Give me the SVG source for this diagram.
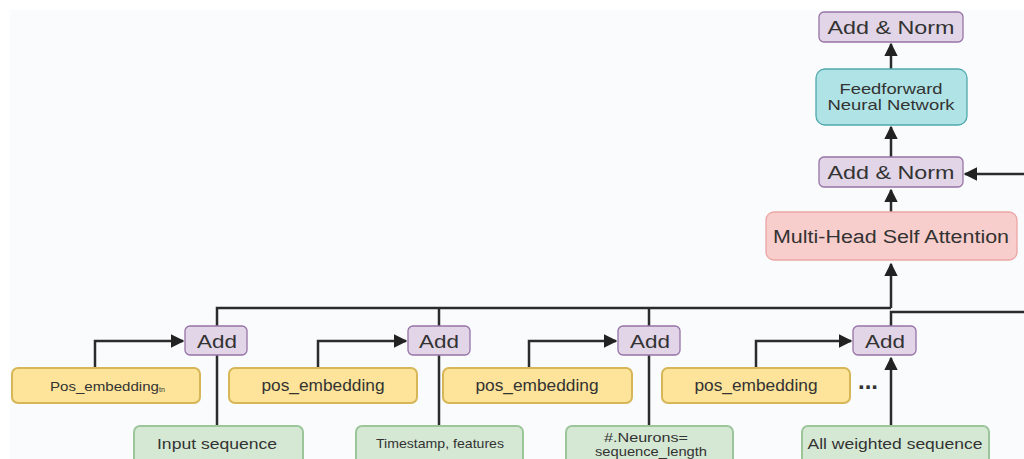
<svg xmlns="http://www.w3.org/2000/svg" width="1024" height="459" viewBox="0 0 1024 459">
<defs>
<marker id="ah" viewBox="0 0 10 10" refX="9" refY="5" markerWidth="5.5" markerHeight="5.5" orient="auto" markerUnits="strokeWidth">
<path d="M0,0 L10,5 L0,10 z" fill="#222"/>
</marker>
<style>
text{font-family:"Liberation Sans",Arial,sans-serif;fill:#333;text-anchor:middle;dominant-baseline:central}
.p{fill:#e1d5e7;stroke:#9673a6;stroke-width:1.3}
.y{fill:#fde49a;stroke:#d6b656;stroke-width:2}
.g{fill:#d5e8d4;stroke:#9cc59a;stroke-width:2}
.t{fill:#b0e3e6;stroke:#4fa8ad;stroke-width:1.3}
.r{fill:#f8cecc;stroke:#eaa6a4;stroke-width:1.3}
.c{fill:none;stroke:#2b2b2b;stroke-width:2.5}
</style>
</defs>
<rect width="1024" height="459" fill="#ffffff"/>
<rect x="10" y="10" width="1014" height="449" fill="#fafbfd"/>
<g id="connectors">
<path class="c" d="M217,426 V355"/>
<path class="c" d="M217,326 V308 H891"/>
<path class="c" d="M439,426 V355"/>
<path class="c" d="M439,326 V308"/>
<path class="c" d="M649,426 V355"/>
<path class="c" d="M649,326 V308"/>
<path class="c" d="M891,326 V312 H1024"/>
<path class="c" d="M891,308 V264" marker-end="url(#ah)"/>
<path class="c" d="M891,426 V358" marker-end="url(#ah)"/>
<path class="c" d="M95,368 V341 H183" marker-end="url(#ah)"/>
<path class="c" d="M318,368 V341 H406" marker-end="url(#ah)"/>
<path class="c" d="M529,368 V341 H616" marker-end="url(#ah)"/>
<path class="c" d="M756,368 V341 H851" marker-end="url(#ah)"/>
<path class="c" d="M891,212 V190" marker-end="url(#ah)"/>
<path class="c" d="M891,157 V127" marker-end="url(#ah)"/>
<path class="c" d="M891,69 V44" marker-end="url(#ah)"/>
<path class="c" d="M1024,174 H965" marker-end="url(#ah)"/>
</g>
<g id="addnorm-top"><rect class="p" x="819" y="12" width="144" height="30" rx="5"/><text x="891" y="27.5" font-size="18.5" textLength="127" lengthAdjust="spacingAndGlyphs">Add &amp; Norm</text></g>
<g id="ffn"><rect class="t" x="816" y="69" width="151" height="56" rx="9"/><text x="891" y="89" font-size="14.5" textLength="103" lengthAdjust="spacingAndGlyphs">Feedforward</text><text x="891" y="105" font-size="14.5" textLength="127" lengthAdjust="spacingAndGlyphs">Neural Network</text></g>
<g id="addnorm-mid"><rect class="p" x="819" y="157" width="144" height="30" rx="5"/><text x="891" y="172.5" font-size="18.5" textLength="127" lengthAdjust="spacingAndGlyphs">Add &amp; Norm</text></g>
<g id="mhsa"><rect class="r" x="766" y="212" width="251" height="48" rx="8"/><text x="891" y="236.5" font-size="18" textLength="236" lengthAdjust="spacingAndGlyphs">Multi-Head Self Attention</text></g>
<g id="add1"><rect class="p" x="185" y="326" width="62" height="29" rx="5"/><text x="217" y="341" font-size="19" textLength="40" lengthAdjust="spacingAndGlyphs">Add</text></g>
<g id="add2"><rect class="p" x="408" y="326" width="62" height="29" rx="5"/><text x="439" y="341" font-size="19" textLength="40" lengthAdjust="spacingAndGlyphs">Add</text></g>
<g id="add3"><rect class="p" x="618" y="326" width="62" height="29" rx="5"/><text x="650" y="341" font-size="19" textLength="40" lengthAdjust="spacingAndGlyphs">Add</text></g>
<g id="add4"><rect class="p" x="853" y="326" width="63" height="29" rx="5"/><text x="885" y="341" font-size="19" textLength="40" lengthAdjust="spacingAndGlyphs">Add</text></g>
<g id="pos1"><rect class="y" x="12" y="368" width="188" height="35" rx="6"/><text x="50" y="385.5" font-size="13.5" style="text-anchor:start"><tspan textLength="109" lengthAdjust="spacingAndGlyphs">Pos_embedding</tspan><tspan font-size="7" dy="3">tn</tspan></text></g>
<g id="pos2"><rect class="y" x="229" y="368" width="188" height="35" rx="6"/><text x="323" y="385.5" font-size="16" textLength="123" lengthAdjust="spacingAndGlyphs">pos_embedding</text></g>
<g id="pos3"><rect class="y" x="443" y="368" width="189" height="35" rx="6"/><text x="537" y="385.5" font-size="16" textLength="123" lengthAdjust="spacingAndGlyphs">pos_embedding</text></g>
<g id="pos4"><rect class="y" x="662" y="368" width="188" height="35" rx="6"/><text x="756" y="385.5" font-size="16" textLength="123" lengthAdjust="spacingAndGlyphs">pos_embedding</text></g>
<g id="dots"><text x="868" y="389" font-size="24" font-weight="bold" style="dominant-baseline:alphabetic" fill="#333">...</text></g>
<g id="in1"><rect class="g" x="134" y="426" width="169" height="40" rx="6"/><text x="217" y="443" font-size="15.5" textLength="120" lengthAdjust="spacingAndGlyphs">Input sequence</text></g>
<g id="in2"><rect class="g" x="356" y="426" width="167" height="40" rx="6"/><text x="440" y="443" font-size="13" textLength="128" lengthAdjust="spacingAndGlyphs">Timestamp, features</text></g>
<g id="in3"><rect class="g" x="566" y="426" width="167" height="40" rx="6"/><text x="646" y="437" font-size="13" textLength="84" lengthAdjust="spacingAndGlyphs">#.Neurons=</text><text x="651" y="451" font-size="13" textLength="112" lengthAdjust="spacingAndGlyphs">sequence_length</text></g>
<g id="in4"><rect class="g" x="802" y="426" width="187" height="40" rx="6"/><text x="895" y="443" font-size="15.5" textLength="175" lengthAdjust="spacingAndGlyphs">All weighted sequence</text></g>
</svg>
